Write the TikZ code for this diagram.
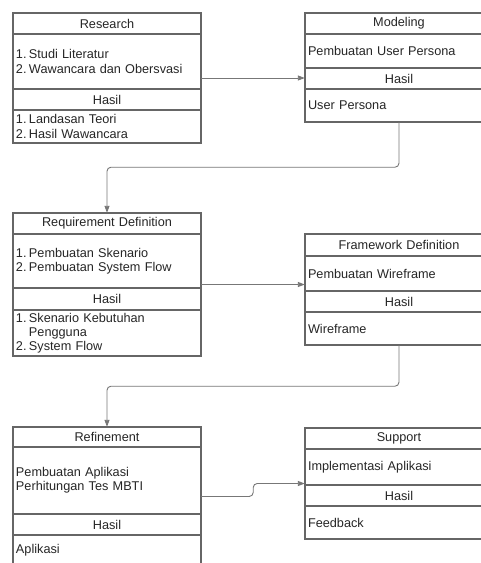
\documentclass[tikz,border=0pt]{standalone}
\usepackage{fontspec}
\setmainfont{Liberation Sans}
\usetikzlibrary{positioning,fit,arrows.meta}
\definecolor{boxline}{HTML}{666666}
\definecolor{flowline}{HTML}{777777}
% numbered line with hanging indent
\newcommand{\itm}[2]{\hangindent=13pt\hangafter=1\noindent\makebox[13pt][l]{#1}#2\par}

\begin{document}
\begin{tikzpicture}[x=1pt,y=-1pt,
  font=\fontsize{12.7}{14.2}\selectfont,
  part/.style={draw=boxline,line width=1.2pt,text=black!85,minimum width=188pt,
    text width=182pt,inner xsep=3pt,inner ysep=1pt,outer sep=0pt,align=left},
  head/.style={part,align=center},
  flow/.style={draw=flowline,line width=0.9pt,rounded corners=4pt,
    -{Triangle[length=7pt,width=5pt,fill=flowline]}}]

\path[fill=white,use as bounding box] (0,0) rectangle (480,563);

% Research
\node[head,minimum height=21pt,anchor=north west] (restitle) at (13,13) {Research};
\node[part,minimum height=55pt,below=0pt of restitle] (resbody) {\itm{1.}{Studi Literatur}\itm{2.}{Wawancara dan Obersvasi}};
\node[head,minimum height=21pt,below=0pt of resbody] (reshasil) {Hasil};
\node[part,minimum height=33pt,below=0pt of reshasil] (resout) {\itm{1.}{Landasan Teori}\itm{2.}{Hasil Wawancara}};
\node[fit=(restitle)(resout),inner sep=0pt] (research) {};

% Modeling
\node[head,minimum height=21pt,anchor=north west] (modtitle) at (305,13) {Modeling};
\node[part,minimum height=34pt,below=0pt of modtitle] (modbody) {Pembuatan User Persona};
\node[head,minimum height=21pt,below=0pt of modbody] (modhasil) {Hasil};
\node[part,minimum height=33pt,below=0pt of modhasil] (modout) {User Persona};
\node[fit=(modtitle)(modout),inner sep=0pt] (modeling) {};

% Requirement Definition
\node[head,minimum height=21pt,anchor=north west] (reqtitle) at (13,213) {Requirement Definition};
\node[part,minimum height=54pt,below=0pt of reqtitle] (reqbody) {\itm{1.}{Pembuatan Skenario}\itm{2.}{Pembuatan System Flow}};
\node[head,minimum height=22pt,below=0pt of reqbody] (reqhasil) {Hasil};
\node[part,minimum height=46pt,below=0pt of reqhasil] (reqout) {\itm{1.}{Skenario Kebutuhan\hfil\break Pengguna}\itm{2.}{System Flow}};
\node[fit=(reqtitle)(reqout),inner sep=0pt] (requirement) {};

% Framework Definition
\node[head,minimum height=22pt,anchor=north west] (fwtitle) at (305,234) {Framework Definition};
\node[part,minimum height=35pt,below=0pt of fwtitle] (fwbody) {Pembuatan Wireframe};
\node[head,minimum height=21pt,below=0pt of fwbody] (fwhasil) {Hasil};
\node[part,minimum height=33pt,below=0pt of fwhasil] (fwout) {Wireframe};
\node[fit=(fwtitle)(fwout),inner sep=0pt] (framework) {};

% Refinement
\node[head,minimum height=20pt,anchor=north west] (reftitle) at (13,427) {Refinement};
\node[part,minimum height=67pt,below=0pt of reftitle] (refbody) {Pembuatan Aplikasi\\Perhitungan Tes MBTI};
\node[head,minimum height=21pt,below=0pt of refbody] (refhasil) {Hasil};
\node[part,minimum height=31pt,below=0pt of refhasil] (refout) {Aplikasi};
\node[fit=(reftitle)(refout),inner sep=0pt] (refinement) {};

% Support
\node[head,minimum height=21pt,anchor=north west] (suptitle) at (305,428) {Support};
\node[part,minimum height=36pt,below=0pt of suptitle] (supbody) {Implementasi Aplikasi};
\node[head,minimum height=21pt,below=0pt of supbody] (suphasil) {Hasil};
\node[part,minimum height=33pt,below=0pt of suphasil] (supout) {Feedback};
\node[fit=(suptitle)(supout),inner sep=0pt] (support) {};

% alur
\draw[flow] (research.east) -- (research.east -| modeling.west);
\draw[flow] (modeling.south) -- ++(0,45) -| (requirement.north);
\draw[flow] (requirement.east) -- (requirement.east -| framework.west);
\draw[flow] (framework.south) -- ++(0,41) -| (refinement.north);
\draw[flow] (refinement.east) -- ++(52,0) |- (support.west);
\end{tikzpicture}
\end{document}
